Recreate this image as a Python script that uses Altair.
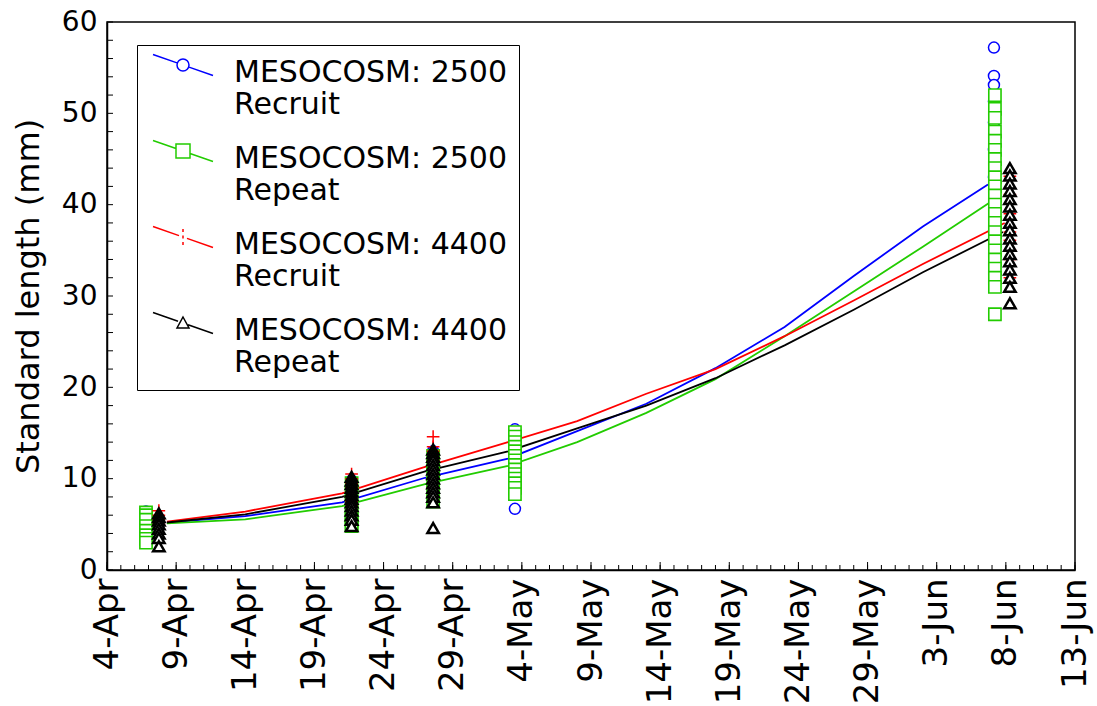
import json
import altair as alt
import pandas as pd

# ---------------- data ----------------
LINE1 = ["MESOCOSM: 2500", "MESOCOSM: 2500", "MESOCOSM: 4400", "MESOCOSM: 4400"]
LINE2 = ["Recruit", "Repeat", "Recruit", "Repeat"]
SERIES = [a + " " + b for a, b in zip(LINE1, LINE2)]
COLORS = ["#0000ff", "#22cc00", "#ff0000", "#000000"]

TICK_DATES = ["2013-04-04", "2013-04-09", "2013-04-14", "2013-04-19", "2013-04-24",
              "2013-04-29", "2013-05-04", "2013-05-09", "2013-05-14", "2013-05-19",
              "2013-05-24", "2013-05-29", "2013-06-03", "2013-06-08", "2013-06-13"]
TICK_LABELS = ["4-Apr", "9-Apr", "14-Apr", "19-Apr", "24-Apr", "29-Apr", "4-May", "9-May",
               "14-May", "19-May", "24-May", "29-May", "3-Jun", "8-Jun", "13-Jun"]
Y_TICKS = [0, 10, 20, 30, 40, 50, 60]

# growth curves (read at these dates)
CURVE_DATES = ["2013-04-08T08:00:00Z", "2013-04-14T00:00:00Z", "2013-04-21T00:00:00Z",
               "2013-04-27T00:00:00Z", "2013-05-03T00:00:00Z", "2013-05-08T00:00:00Z",
               "2013-05-13T00:00:00Z", "2013-05-18T00:00:00Z", "2013-05-23T00:00:00Z",
               "2013-05-28T00:00:00Z", "2013-06-02T00:00:00Z"]
CURVE_END = ["2013-06-06T17:00:00Z", "2013-06-07T00:00:00Z",
             "2013-06-07T22:00:00Z", "2013-06-07T19:00:00Z"]
BLUE_CURVE = [5.2, 5.9, 7.4, 10.1, 12.2, 15.2, 18.2, 22.1, 26.6, 32.2, 37.6, 42.2]
GREEN_CURVE = [5.1, 5.55, 7.0, 9.4, 11.4, 14.0, 17.2, 20.9, 25.6, 30.5, 35.4, 40.4]
RED_CURVE = [5.3, 6.4, 8.4, 11.3, 14.0, 16.3, 19.3, 22.0, 25.6, 29.5, 33.5, 38.0]
BLACK_CURVE = [5.2, 6.1, 8.0, 10.8, 13.0, 15.5, 18.0, 21.0, 24.6, 28.5, 32.6, 37.0]
CURVES = [BLUE_CURVE, GREEN_CURVE, RED_CURVE, BLACK_CURVE]

# individual fish
BLUE_DATES = ["2013-04-06T19:40:00Z", "2013-04-21T16:30:00Z", "2013-04-27T14:00:00Z",
              "2013-05-03T12:00:00Z", "2013-06-07T03:20:00Z"]
BLUE_VALUES = [
    [6.4, 5.8, 5.0, 4.2],
    [9.8, 9.0, 8.0, 7.0, 6.0],
    [13.0, 12.0, 11.0, 10.0, 9.0, 8.0],
    [15.4, 14.0, 12.0, 10.0, 6.7],
    [57.2, 54.1, 53.1, 51.3, 49.0, 46.0, 43.0],
]
GREEN_DATES = ["2013-04-06T19:40:00Z", "2013-04-21T16:30:00Z", "2013-04-27T14:00:00Z",
               "2013-05-03T12:00:00Z", "2013-06-07T05:00:00Z"]
GREEN_VALUES = [
    [6.3, 6.0, 5.5, 4.8, 4.3, 3.8, 3.4, 3.0],
    [9.5, 8.5, 7.5, 6.5, 6.0, 5.5, 5.0, 4.8],
    [12.5, 11.5, 10.5, 9.5, 8.5, 7.5],
    [15.1, 14.6, 14.0, 13.5, 13.0, 12.5, 12.0, 11.5, 11.0, 10.5, 10.0, 9.5, 9.0, 8.3],
    [52.0, 50.5, 49.5, 48.0, 47.0, 46.0, 45.0, 44.0, 43.0, 42.0, 41.0, 40.0, 39.0,
     38.0, 37.0, 36.0, 35.0, 34.0, 33.0, 32.0, 31.0, 28.0],
]
RED_DATES = ["2013-04-07T18:00:00Z", "2013-04-21T16:30:00Z", "2013-04-27T14:00:00Z",
             "2013-06-08T07:00:00Z"]
RED_VALUES = [
    [6.5, 6.0, 5.5, 5.0, 4.5],
    [10.5, 10.0, 9.5, 9.0, 8.5, 8.0, 7.5, 7.0, 6.5],
    [14.6, 13.5, 13.0, 12.0, 11.0, 10.0, 9.0, 8.0],
    [43.1, 41.1, 39.0, 37.0, 36.1, 35.0, 34.0, 32.0],
]
BLACK_DATES = ["2013-04-07T18:00:00Z", "2013-04-21T16:30:00Z", "2013-04-27T14:00:00Z",
               "2013-06-08T07:00:00Z"]
BLACK_VALUES = [
    [6.2, 5.8, 5.4, 5.0, 4.5, 4.0, 3.5, 2.6],
    [10.2, 9.8, 9.4, 9.0, 8.6, 8.2, 7.8, 7.4, 7.0, 6.5, 6.0, 5.5, 4.8],
    [13.2, 12.8, 12.4, 12.0, 11.5, 11.0, 10.5, 10.0, 9.5, 9.0, 8.5, 8.0, 7.4, 4.6],
    [44.0, 43.2, 42.3, 41.5, 40.6, 39.8, 38.9, 38.0, 37.2, 36.3, 35.5, 34.6, 33.8,
     32.9, 32.0, 31.0, 29.2],
]

# ---------------- tables ----------------
def points_table(dates, values):
    rows = []
    for d, vals in zip(dates, values):
        for v in vals:
            rows.append({"date": d, "value": v})
    return pd.DataFrame(rows)

def curve_table(i):
    dates = CURVE_DATES + [CURVE_END[i]]
    return pd.DataFrame({"date": dates, "value": CURVES[i]})

def ms(s):
    return int(pd.Timestamp(s, tz="UTC").value // 10**6)

W, H = 968, 548
FONT = "DejaVu Sans"

tick_ms = [ms(d) for d in TICK_DATES]
label_expr = (f"{json.dumps(TICK_LABELS)}[indexof({json.dumps(tick_ms)}, toNumber(datum.value))]")

x_scale = alt.Scale(type="utc", domain=[tick_ms[0], tick_ms[-1]], nice=False)
x_axis = alt.Axis(values=tick_ms, labelExpr=label_expr,
                  labelAngle=-90, labelFontSize=34, labelPadding=8, labelFont=FONT,
                  labelColor="black", title=None, ticks=False, grid=False,
                  domainColor="black", domainWidth=1.5, labelOverlap=False)
y_scale = alt.Scale(domain=[0, 60], nice=False)
y_axis = alt.Axis(values=Y_TICKS, labelFontSize=28, labelPadding=10, labelFont=FONT,
                  labelColor="black", title="Standard length (mm)", titleFont=FONT,
                  titleFontSize=32, titleFontWeight="normal", titleColor="black",
                  titlePadding=16, ticks=False, grid=False, domainColor="black",
                  domainWidth=1.5)

X = alt.X("date:T", scale=x_scale, axis=x_axis)
Y = alt.Y("value:Q", scale=y_scale, axis=y_axis)

layers = []

# curves
for i in range(4):
    layers.append(
        alt.Chart(curve_table(i)).mark_line(color=COLORS[i], strokeWidth=1.8)
        .encode(x=X, y=Y)
    )

# points
PLUS = "M0,-1L0,1M-1,0L1,0"
point_specs = [
    (BLUE_DATES, BLUE_VALUES, dict(shape="circle", size=120, strokeWidth=1.5, fill="white")),
    (GREEN_DATES, GREEN_VALUES, dict(shape="square", size=150, strokeWidth=1.6, fill="white")),
    (RED_DATES, RED_VALUES, dict(shape=PLUS, size=160, strokeWidth=1.5, fill="white")),
    (BLACK_DATES, BLACK_VALUES, dict(shape="triangle-up", size=130, strokeWidth=2.5, fill="white")),
]
for i, (d, v, style) in enumerate(point_specs):
    layers.append(
        alt.Chart(points_table(d, v)).mark_point(filled=True, stroke=COLORS[i], opacity=1,
                                                 fillOpacity=1, strokeOpacity=1, **style)
        .encode(x=X, y=Y)
    )

# inward tick marks
days = pd.date_range(TICK_DATES[0], TICK_DATES[-1], freq="D", tz="UTC")
day_df = pd.DataFrame({"date": [d.strftime("%Y-%m-%dT%H:%M:%SZ") for d in days]})
major_df = pd.DataFrame({"date": [pd.Timestamp(d, tz="UTC").strftime("%Y-%m-%dT%H:%M:%SZ") for d in TICK_DATES]})
layers.append(alt.Chart(day_df).mark_rule(color="black", strokeWidth=1)
              .encode(x=X, y=alt.value(H), y2=alt.value(H - 5)))
layers.append(alt.Chart(major_df).mark_rule(color="black", strokeWidth=1)
              .encode(x=X, y=alt.value(H), y2=alt.value(H - 8)))
ytick_df = pd.DataFrame({"value": list(range(0, 61, 2))})
layers.append(alt.Chart(ytick_df).mark_rule(color="black", strokeWidth=1)
              .encode(y=Y, x=alt.value(0), x2=alt.value(6)))

# legend symbols: line with marker, drawn as custom paths
SYM = 900          # symbol area -> path unit = sqrt(SYM)/2 px
U = 15.0
DY = -8.0
def pt(x, y):
    return f"{x / U:.3f},{(y + DY) / U:.3f}"
r = f"{6 / U:.3f}"
P_BLUE = (f"M{pt(-30,-10.5)}L{pt(-6,-2.1)}M{pt(6,2.1)}L{pt(30,10.5)}"
          f"M{pt(-6,0)}A{r},{r} 0 1,1 {pt(6,0)}A{r},{r} 0 1,1 {pt(-6,0)}Z")
P_GREEN = (f"M{pt(-30,-10.5)}L{pt(-7,-2.45)}M{pt(7,2.45)}L{pt(30,10.5)}"
           f"M{pt(-7,-7)}L{pt(7,-7)}L{pt(7,7)}L{pt(-7,7)}Z")
P_RED = (f"M{pt(-30,-10.5)}L{pt(-4,-1.4)}M{pt(4,1.4)}L{pt(30,10.5)}"
         f"M{pt(0,-8)}L{pt(0,-5)}M{pt(0,-1.5)}L{pt(0,1.5)}M{pt(0,5)}L{pt(0,8)}")
P_BLACK = (f"M{pt(-30,-10.5)}L{pt(-5,-1.75)}M{pt(5,1.75)}L{pt(30,10.5)}"
           f"M{pt(0,-6)}L{pt(6,5)}L{pt(-6,5)}Z")
PATHS = [P_BLUE, P_GREEN, P_RED, P_BLACK]

LEG = alt.Legend(title=None, orient="none", legendX=30, legendY=23,
                 strokeColor="black", fillColor="white", padding=12,
                 labelFont=FONT, labelFontSize=30, labelColor="black", labelLimit=500,
                 labelOffset=35, symbolOffset=18,
                 labelExpr="[slice(datum.label,0,14), slice(datum.label,15)]",
                 symbolSize=SYM, symbolStrokeWidth=1.5, rowPadding=17, symbolOpacity=1)

legend_df = pd.DataFrame({"series": SERIES})
layers.append(
    alt.Chart(legend_df).mark_point(filled=False, opacity=0)
    .encode(color=alt.Color("series:N", scale=alt.Scale(domain=SERIES, range=COLORS), legend=LEG),
            shape=alt.Shape("series:N", scale=alt.Scale(domain=SERIES, range=PATHS), legend=LEG))
)

chart = (
    alt.layer(*layers)
    .properties(width=W, height=H,
                padding={"left": 107, "top": 22, "right": 22, "bottom": 136},
                autosize=alt.AutoSizeParams(type="none"),
                background="white")
    .configure_view(stroke="black", strokeWidth=1.5)
)

chart.save("out.html", embed_options={"renderer": "svg", "actions": False})
